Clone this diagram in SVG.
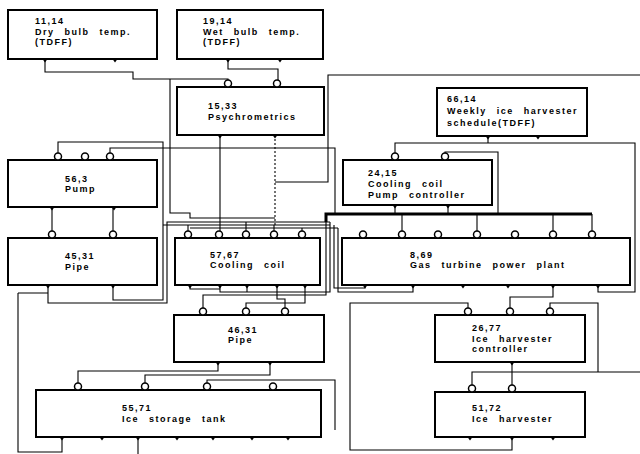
<svg xmlns="http://www.w3.org/2000/svg" xmlns:xlink="http://www.w3.org/1999/xlink" width="640" height="454" viewBox="0 0 640 454">
<style>
.box{fill:#fff;stroke:#000;stroke-width:2}
.w{fill:none;stroke:#000;stroke-width:1.1}
.bus{fill:none;stroke:#000;stroke-width:3}
.dot{fill:none;stroke:#000;stroke-width:1.1;stroke-dasharray:2 2}
.in{fill:#fff;stroke:#000;stroke-width:1.5}
.out{fill:#000}
text{font-family:"Liberation Sans",Arial,sans-serif;font-weight:bold;font-size:9px;letter-spacing:1.5px;word-spacing:6px;fill:#000}
</style>
<defs>
<circle id="i" class="in" cx="0" cy="-3.5" r="3.5"/>
<path id="o" class="out" d="M-2.5,0 L2.5,0 L0,3.5 Z"/>
</defs>
<rect width="640" height="454" fill="#fff"/>
<g id="connectors">
<path class="w" d="M45,59 V72 H133 V79 H228 V84"/>
<path class="w" d="M228,59 V69 H278 V83"/>
<path class="w" d="M170,79 V213 H190 V218 H275"/>
<path class="w" d="M220,135 V232"/>
<path class="dot" d="M275,135 V225"/>
<path class="w" d="M275,182 H328 V75 H640"/>
<path class="w" d="M58,156 V142 H163 V300 H113 V285"/>
<path class="w" d="M110,156 V148 H335 V214"/>
<path class="w" d="M48,285 V303 H167 V222 H330"/>
<path class="w" d="M163,225 H330"/>
<path class="w" d="M190,228 H338"/>
<path class="w" d="M188,232 V225 M246,232 V222 M274,232 V225 M302,232 V228"/>
<path class="w" d="M52,207 V234 M113,207 V234"/>
<path class="w" d="M18,293 H48 M18,293 V452 H62 V437"/>
<path class="w" d="M138,437 V454"/>
<path class="bus" d="M326,222 V214 H592"/>
<path class="w" d="M395,205 V214 M448,205 V214 M402,214 V233 M477,214 V233 M553,214 V233 M592,214 V233"/>
<path class="w" d="M445,157 V152 H498 V214"/>
<path class="w" d="M395,157 V143 H488 V136 M488,143 H635 V292 H598 V285"/>
<path class="w" d="M326,214 V295 H203 V311"/>
<path class="w" d="M330,222 V292 H220 V285 M190,285 V289 H220"/>
<path class="w" d="M334,225 V288 H365 V285"/>
<path class="w" d="M338,228 V292 H413 V285"/>
<path class="w" d="M246,311 V303 H305 V285"/>
<path class="w" d="M285,311 V299 H277 V285"/>
<path class="w" d="M247,285 V292"/>
<path class="w" d="M78,386 V371 H218 V362"/>
<path class="w" d="M145,386 V375 H270 V362"/>
<path class="w" d="M207,386 V380 H335 V430"/>
<path class="w" d="M512,437 V450 H350 V303 H468 V311"/>
<path class="w" d="M510,311 V297 H553 V285"/>
<path class="w" d="M550,311 V303 H598 V372"/>
<path class="w" d="M472,388 V372 H640"/>
<path class="w" d="M512,362 V388"/>
</g>
<g id="n11_14">
<rect class="box" x="8" y="10" width="149" height="49"/>
<text x="35" y="24">11,14</text><text x="35" y="34.5">Dry bulb temp.</text><text x="35" y="45">(TDFF)</text>
<use xlink:href="#o" x="45" y="59"/><use xlink:href="#o" x="115" y="59"/>
</g>
<g id="n19_14">
<rect class="box" x="177" y="10" width="146" height="49"/>
<text x="203" y="24">19,14</text><text x="203" y="34.5">Wet bulb temp.</text><text x="203" y="45">(TDFF)</text>
<use xlink:href="#o" x="228" y="59"/><use xlink:href="#o" x="280" y="59"/>
</g>
<g id="n15_33">
<rect class="box" x="177" y="87" width="147" height="48"/>
<text x="208" y="109">15,33</text><text x="208" y="120">Psychrometrics</text>
<use xlink:href="#i" x="228" y="87"/><use xlink:href="#i" x="277" y="87"/>
<use xlink:href="#o" x="220" y="135"/><use xlink:href="#o" x="275" y="135"/>
</g>
<g id="n66_14">
<rect class="box" x="437" y="88" width="150" height="48"/>
<text x="447" y="102">66,14</text><text x="447" y="114">Weekly ice harvester</text><text x="447" y="126">schedule(TDFF)</text>
<use xlink:href="#o" x="488" y="136"/><use xlink:href="#o" x="538" y="136"/>
</g>
<g id="n56_3">
<rect class="box" x="8" y="160" width="149" height="47"/>
<text x="65" y="181.5">56,3</text><text x="65" y="192">Pump</text>
<use xlink:href="#i" x="58" y="160"/><use xlink:href="#i" x="85" y="160"/><use xlink:href="#i" x="110" y="160"/>
<use xlink:href="#o" x="52" y="207"/><use xlink:href="#o" x="114" y="207"/>
</g>
<g id="n24_15">
<rect class="box" x="343" y="160" width="149" height="45"/>
<text x="368" y="176">24,15</text><text x="368" y="187">Cooling coil</text><text x="368" y="198">Pump controller</text>
<use xlink:href="#i" x="395" y="160"/><use xlink:href="#i" x="445" y="160"/>
<use xlink:href="#o" x="395" y="205"/><use xlink:href="#o" x="448" y="205"/>
</g>
<g id="n45_31">
<rect class="box" x="8" y="238" width="149" height="47"/>
<text x="65" y="259">45,31</text><text x="65" y="269.5">Pipe</text>
<use xlink:href="#i" x="52" y="238"/><use xlink:href="#i" x="113" y="238"/>
<use xlink:href="#o" x="48" y="285"/><use xlink:href="#o" x="113" y="285"/>
</g>
<g id="n57_67">
<rect class="box" x="175" y="238" width="145" height="47"/>
<text x="210" y="257.5">57,67</text><text x="210" y="268">Cooling coil</text>
<use xlink:href="#i" x="188" y="238"/><use xlink:href="#i" x="219" y="238"/><use xlink:href="#i" x="246" y="238"/><use xlink:href="#i" x="274" y="238"/><use xlink:href="#i" x="302" y="238"/>
<use xlink:href="#o" x="190" y="285"/><use xlink:href="#o" x="220" y="285"/><use xlink:href="#o" x="247" y="285"/><use xlink:href="#o" x="277" y="285"/><use xlink:href="#o" x="305" y="285"/>
</g>
<g id="n8_69">
<rect class="box" x="342" y="238" width="288" height="47"/>
<text x="410" y="257.5">8,69</text><text x="410" y="268">Gas turbine power plant</text>
<use xlink:href="#i" x="363" y="238"/><use xlink:href="#i" x="402" y="238"/><use xlink:href="#i" x="438" y="238"/><use xlink:href="#i" x="477" y="238"/><use xlink:href="#i" x="515" y="238"/><use xlink:href="#i" x="553" y="238"/><use xlink:href="#i" x="592" y="238"/>
<use xlink:href="#o" x="365" y="285"/><use xlink:href="#o" x="413" y="285"/><use xlink:href="#o" x="463" y="285"/><use xlink:href="#o" x="508" y="285"/><use xlink:href="#o" x="553" y="285"/><use xlink:href="#o" x="598" y="285"/>
</g>
<g id="n46_31">
<rect class="box" x="174" y="315" width="150" height="47"/>
<text x="228" y="332.5">46,31</text><text x="228" y="343">Pipe</text>
<use xlink:href="#i" x="203" y="315"/><use xlink:href="#i" x="246" y="315"/><use xlink:href="#i" x="285" y="315"/>
<use xlink:href="#o" x="218" y="362"/><use xlink:href="#o" x="270" y="362"/>
</g>
<g id="n26_77">
<rect class="box" x="435" y="315" width="150" height="47"/>
<text x="472" y="331">26,77</text><text x="472" y="341.5">Ice harvester</text><text x="472" y="352">controller</text>
<use xlink:href="#i" x="468" y="315"/><use xlink:href="#i" x="510" y="315"/><use xlink:href="#i" x="550" y="315"/>
<use xlink:href="#o" x="512" y="362"/>
</g>
<g id="n55_71">
<rect class="box" x="36" y="390" width="285" height="47"/>
<text x="122" y="411">55,71</text><text x="122" y="421.5">Ice storage tank</text>
<use xlink:href="#i" x="78" y="390"/><use xlink:href="#i" x="145" y="390"/><use xlink:href="#i" x="207" y="390"/><use xlink:href="#i" x="273" y="390"/>
<use xlink:href="#o" x="62" y="437"/><use xlink:href="#o" x="102" y="437"/><use xlink:href="#o" x="138" y="437"/><use xlink:href="#o" x="177" y="437"/><use xlink:href="#o" x="213" y="437"/><use xlink:href="#o" x="252" y="437"/><use xlink:href="#o" x="288" y="437"/>
</g>
<g id="n51_72">
<rect class="box" x="435" y="392" width="150" height="45"/>
<text x="472" y="411">51,72</text><text x="472" y="421.5">Ice harvester</text>
<use xlink:href="#i" x="472" y="392"/><use xlink:href="#i" x="512" y="392"/>
<use xlink:href="#o" x="470" y="437"/><use xlink:href="#o" x="512" y="437"/><use xlink:href="#o" x="553" y="437"/>
</g>
</svg>
